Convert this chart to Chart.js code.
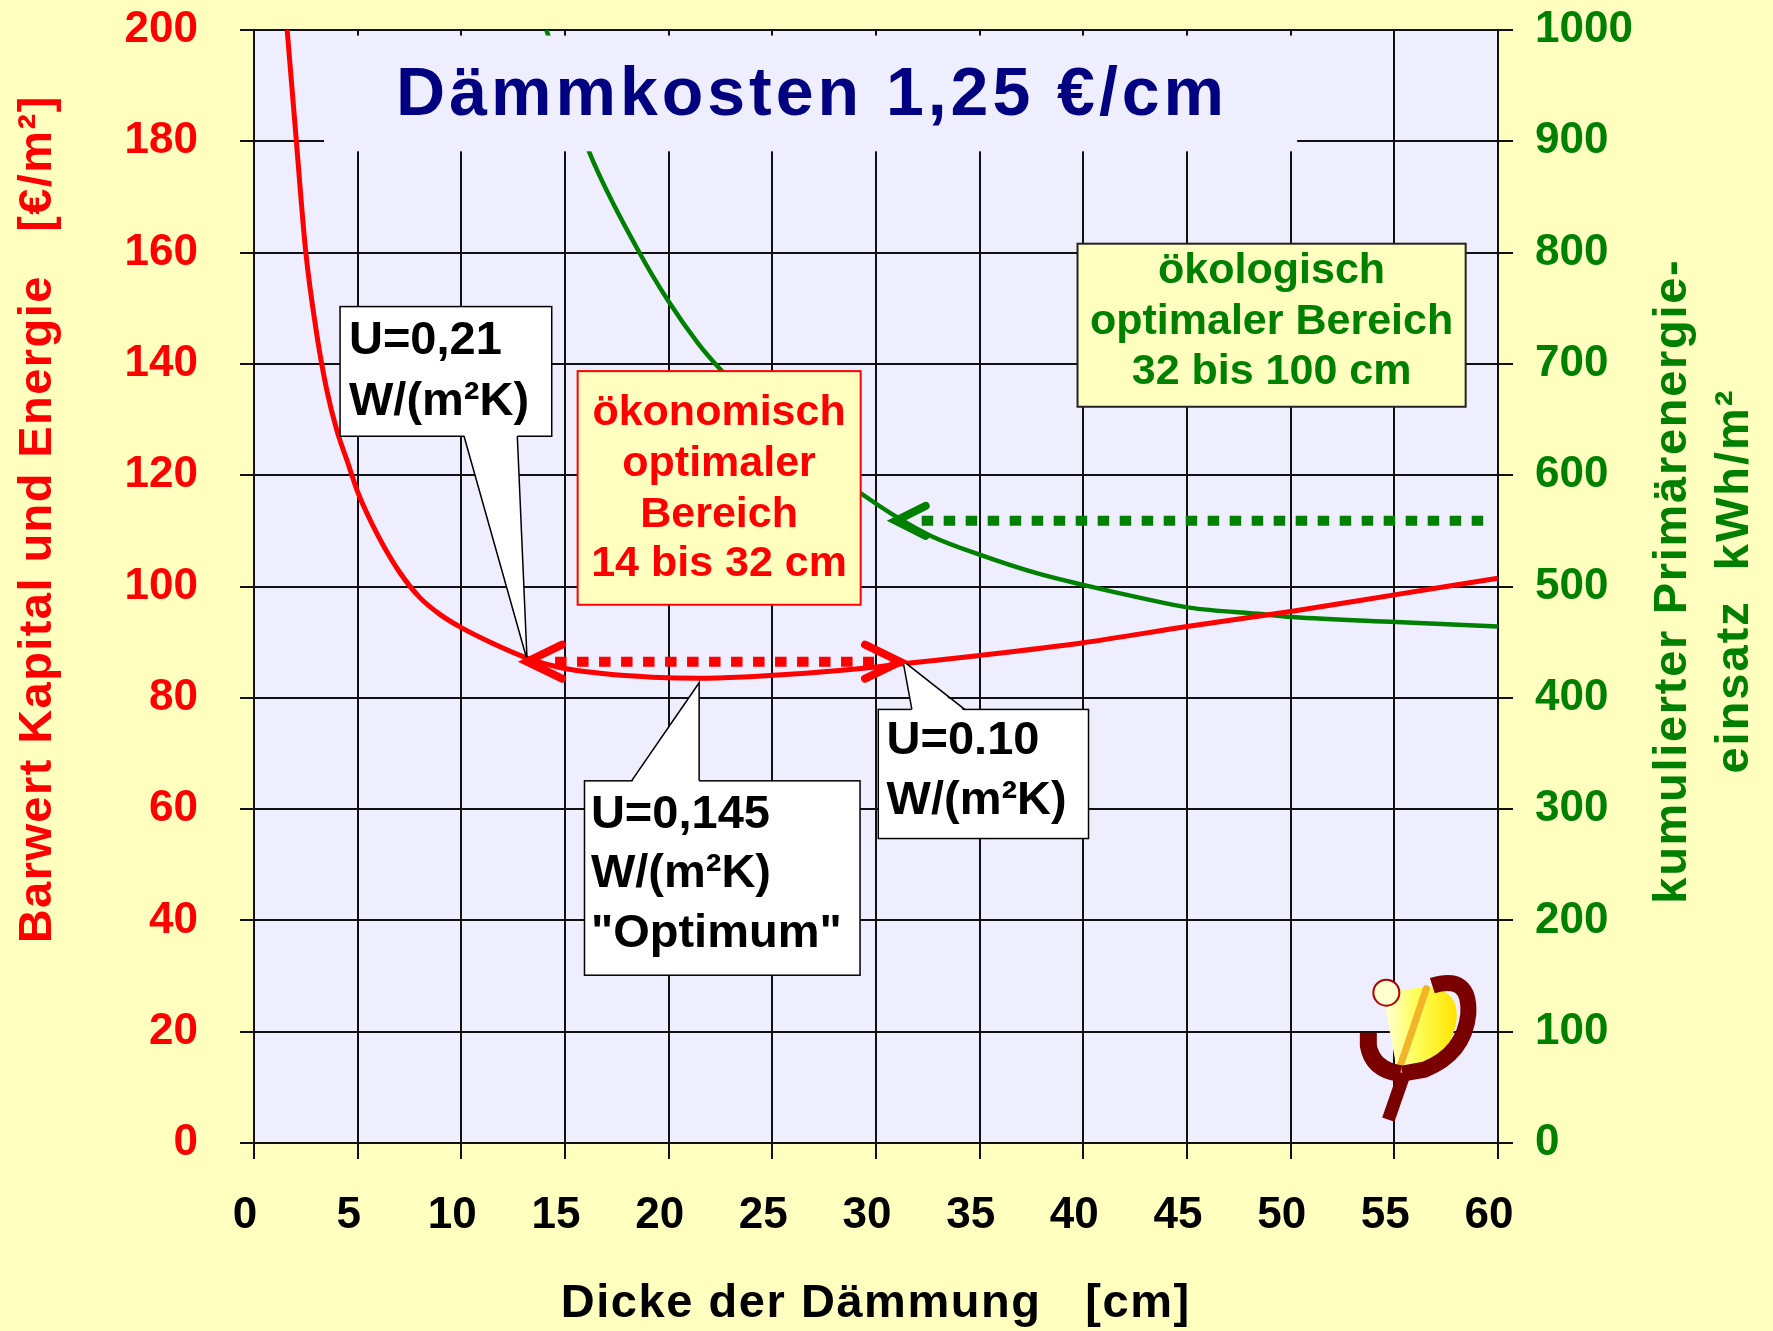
<!DOCTYPE html>
<html>
<head>
<meta charset="UTF-8">
<title>Dämmkosten 1,25 €/cm</title>
<script src="https://cdn.jsdelivr.net/npm/chart.js@4.4.1/dist/chart.umd.min.js"></script>
<style>
	html, body { margin:0; padding:0; background:#FFFFC0; }
	canvas { display:block; }
</style>
</head>
<body>
	<canvas id="myChart" width="1773" height="1331"></canvas>

	<script>
		// Barwert Kapital und Energie [€/m²] (linke Achse)
		const barwertDicke = [1.6, 2.0, 2.5, 3.0, 3.5, 4.0, 4.5, 5.0, 6.0, 7.0, 8.0, 9.0, 10.0, 11.5, 13.2, 14.8, 16.7, 19.2, 21.5, 23.9, 26.6, 29.4, 31.3, 35, 40, 45, 50, 55, 60];
		const barwertWert  = [200, 182, 160, 146, 135.5, 128, 122.5, 117, 109, 102.7, 98, 94.9, 92.6, 89.8, 87.1, 85.4, 84.4, 83.7, 83.5, 83.8, 84.4, 85.3, 86.1, 87.6, 89.9, 92.8, 95.5, 98.5, 101.5];

		// kumulierter Primärenergieeinsatz [kWh/m²] (rechte Achse)
		const primaerDicke = [14.1, 16.2, 18.5, 20.0, 21.4, 22.5, 25.5, 27.5, 29.25, 30.95, 32.7, 35.1, 37.75, 40.1, 42.7, 45.1, 48.7, 50.1, 55.1, 60];
		const primaerWert  = [1000, 889, 803, 756, 719, 695, 640, 608, 584, 563, 545, 528, 512, 501, 490, 481, 475, 472.5, 468, 464];

		// Achsenteilung
		const xTicks = [0, 5, 10, 15, 20, 25, 30, 35, 40, 45, 50, 55, 60];
		const yLinksTicks = [0, 20, 40, 60, 80, 100, 120, 140, 160, 180, 200];
		const yRechtsTicks = [0, 100, 200, 300, 400, 500, 600, 700, 800, 900, 1000];

		// Texte
		const titel = 'Dämmkosten 1,25 €/cm';
		const xTitel = 'Dicke der Dämmung   [cm]';
		const yLinksTitel = 'Barwert Kapital und Energie   [€/m²]';
		const yRechtsTitel = ['kumulierter Primärenergie-', 'einsatz  kWh/m²'];
	</script>

	<script>
		const FONT = '"Liberation Sans", Arial, sans-serif';

		// Lage der Kästen/Pfeile in Achsen-Einheiten (x in cm, y in €/m²)
		const lage = {
			titelBox: { x0: 3.38, x1: 50.31, y0: 199.0, y1: 178.2, tx: 26.82, ty: 184.8 },
			u021: { x0: 4.15, x1: 14.36, y0: 150.3, y1: 127.0, za: 10.13, zb: 12.7, tipX: 13.17, tipY: 86.83, tx: 4.58, ty: [141.7, 130.9] },
			oekon: { x0: 15.61, x1: 29.26, y0: 138.7, y1: 96.72, tx: 22.43, ty: [129.1, 119.9, 110.7, 101.8] },
			oekol: { x0: 39.72, x1: 58.44, y0: 161.6, y1: 132.3, tx: 49.08, ty: [154.6, 145.4, 136.4] },
			u0145: { x0: 15.94, x1: 29.23, y0: 65.08, y1: 30.15, za: 18.21, zb: 21.47, tipX: 21.47, tipY: 82.7, tx: 16.25, ty: [56.63, 46.02, 35.24] },
			u010: { x0: 30.11, x1: 40.25, y0: 77.91, y1: 54.71, za: 31.73, zb: 34.28, tipX: 31.3, tipY: 86.65, tx: 30.51, ty: [69.93, 59.15] },
			rotPfeil: { x0: 13.17, x1: 31.16, y: 86.5 },
			gruenPfeil: { x0: 30.95, x1: 59.7, y: 559 },
			logo: { x: 55, y: 20 }
		};

		function kasten(ctx, X, Y, b, fill, stroke, lw) {
			const x = X(b.x0), y = Y(b.y0), w = X(b.x1) - x, h = Y(b.y1) - y;
			ctx.fillStyle = fill;
			ctx.fillRect(x, y, w, h);
			if (stroke) {
				ctx.strokeStyle = stroke;
				ctx.lineWidth = lw;
				ctx.strokeRect(x, y, w, h);
			}
		}

		function zeiger(ctx, xa, xb, yb, xt, yt) {
			const d = yt > yb ? -2 : 2;
			ctx.fillStyle = '#fff';
			ctx.beginPath();
			ctx.moveTo(xa, yb + d);
			ctx.lineTo(xb, yb + d);
			ctx.lineTo(xt, yt);
			ctx.closePath();
			ctx.fill();
			ctx.strokeStyle = '#000';
			ctx.lineWidth = 1.5;
			ctx.beginPath();
			ctx.moveTo(xa, yb); ctx.lineTo(xt, yt); ctx.lineTo(xb, yb);
			ctx.stroke();
		}

		function spitze(ctx, xt, y, dir, len, half, color) {
			ctx.strokeStyle = color;
			ctx.lineWidth = 8;
			ctx.lineCap = 'round';
			ctx.lineJoin = 'miter';
			ctx.setLineDash([]);
			ctx.beginPath();
			ctx.moveTo(xt + dir * len, y - half);
			ctx.lineTo(xt, y);
			ctx.lineTo(xt + dir * len, y + half);
			ctx.stroke();
		}

		function punktLinie(ctx, xa, xb, y, color) {
			ctx.strokeStyle = color;
			ctx.lineWidth = 10;
			ctx.lineCap = 'butt';
			ctx.setLineDash([11.5, 10.5]);
			ctx.beginPath();
			ctx.moveTo(xa, y);
			ctx.lineTo(xb, y);
			ctx.stroke();
			ctx.setLineDash([]);
		}

		function zeilen(ctx, lines, x, ys, Y, color, font, align) {
			ctx.fillStyle = color;
			ctx.font = font;
			ctx.textAlign = align;
			ctx.textBaseline = 'alphabetic';
			lines.forEach(function(t, i) { ctx.fillText(t, x, Y(ys[i])); });
		}

		function gespreizt(ctx, text, x, y, breite) {
			ctx.letterSpacing = '0px';
			const w = ctx.measureText(text).width;
			const sp = Math.max(0, (breite - w) / text.length);
			ctx.letterSpacing = sp + 'px';
			ctx.fillText(text, x + sp / 2, y);
			ctx.letterSpacing = '0px';
		}

		function logo(ctx, ax, ay) {
			ctx.save();
			ctx.translate(ax, ay);
			// gelber Fächer
			const g = ctx.createLinearGradient(-15, 0, 62, 0);
			g.addColorStop(0, '#FFFFF0');
			g.addColorStop(0.45, '#FFFF60');
			g.addColorStop(1, '#FFE400');
			ctx.fillStyle = g;
			ctx.beginPath();
			ctx.moveTo(-12, -40);
			ctx.lineTo(36, -45);
			ctx.quadraticCurveTo(66, -40, 62, -10);
			ctx.quadraticCurveTo(56, 25, 20, 38);
			ctx.lineTo(3, 40);
			ctx.closePath();
			ctx.fill();
			// oranger Streifen
			ctx.strokeStyle = '#F2B428';
			ctx.lineWidth = 7;
			ctx.beginPath();
			ctx.moveTo(32, -43);
			ctx.lineTo(5, 37);
			ctx.stroke();
			// dunkelroter Bogen
			ctx.strokeStyle = '#7A0000';
			ctx.lineCap = 'butt';
			ctx.lineWidth = 16;
			ctx.beginPath();
			ctx.moveTo(38, -46);
			ctx.quadraticCurveTo(76, -58, 74, -18);
			ctx.quadraticCurveTo(70, 22, 30, 38);
			ctx.lineTo(8, 42);
			ctx.stroke();
			// linker Arm
			ctx.lineWidth = 17;
			ctx.beginPath();
			ctx.moveTo(-26, 1);
			ctx.lineTo(-26, 14);
			ctx.quadraticCurveTo(-22, 38, 6, 42);
			ctx.stroke();
			// Stiel
			ctx.lineWidth = 13;
			ctx.beginPath();
			ctx.moveTo(10, 42);
			ctx.lineTo(-6, 88);
			ctx.stroke();
			// kleiner Kreis
			ctx.fillStyle = '#FFFFD0';
			ctx.strokeStyle = '#B00000';
			ctx.lineWidth = 2;
			ctx.beginPath();
			ctx.arc(-8, -39, 13, 0, Math.PI * 2);
			ctx.fill();
			ctx.stroke();
			ctx.restore();
		}

		const deko = {
			id: 'deko',
			beforeDraw(chart) {
				const ctx = chart.ctx, a = chart.chartArea;
				ctx.save();
				ctx.fillStyle = '#FFFFC0';
				ctx.fillRect(0, 0, chart.width, chart.height);
				ctx.fillStyle = '#EEEEFF';
				ctx.fillRect(a.left, a.top, a.right - a.left, a.bottom - a.top);
				ctx.restore();
			},
			afterDatasetsDraw(chart) {
				const ctx = chart.ctx;
				const sx = chart.scales.x, sy = chart.scales.y, sy1 = chart.scales.y1;
				const X = v => sx.getPixelForValue(v), Y = v => sy.getPixelForValue(v);
				ctx.save();

				// Titelfeld deckt Gitter und Kurve ab
				const t = lage.titelBox;
				kasten(ctx, X, Y, t, '#EEEEFF');
				ctx.fillStyle = '#000080';
				ctx.font = 'bold 68px ' + FONT;
				ctx.textAlign = 'center';
				ctx.textBaseline = 'alphabetic';
				gespreizt(ctx, titel, X(t.tx), Y(t.ty), 832);

				// U=0,21
				let b = lage.u021;
				kasten(ctx, X, Y, b, '#fff', '#000', 1.5);
				zeiger(ctx, X(b.za), X(b.zb), Y(b.y1), X(b.tipX), Y(b.tipY));
				zeilen(ctx, ['U=0,21', 'W/(m²K)'], X(b.tx), b.ty, Y, '#000', 'bold 47px ' + FONT, 'left');

				// ökonomisch optimaler Bereich
				b = lage.oekon;
				kasten(ctx, X, Y, b, '#FFFFC0', '#FF0000', 2);
				zeilen(ctx, ['ökonomisch', 'optimaler', 'Bereich', '14 bis 32 cm'], X(b.tx), b.ty, Y, '#FF0000', 'bold 43px ' + FONT, 'center');

				// ökologisch optimaler Bereich
				b = lage.oekol;
				kasten(ctx, X, Y, b, '#FFFFC0', '#222', 2);
				zeilen(ctx, ['ökologisch', 'optimaler Bereich', '32 bis 100 cm'], X(b.tx), b.ty, Y, '#008000', 'bold 43px ' + FONT, 'center');

				// U=0,145 Optimum
				b = lage.u0145;
				kasten(ctx, X, Y, b, '#fff', '#000', 1.5);
				zeiger(ctx, X(b.za), X(b.zb), Y(b.y0), X(b.tipX), Y(b.tipY));
				zeilen(ctx, ['U=0,145', 'W/(m²K)', '"Optimum"'], X(b.tx), b.ty, Y, '#000', 'bold 47px ' + FONT, 'left');

				// U=0.10
				b = lage.u010;
				kasten(ctx, X, Y, b, '#fff', '#000', 1.5);
				zeiger(ctx, X(b.za), X(b.zb), Y(b.y0), X(b.tipX), Y(b.tipY));
				zeilen(ctx, ['U=0.10', 'W/(m²K)'], X(b.tx), b.ty, Y, '#000', 'bold 47px ' + FONT, 'left');

				// roter Doppelpfeil
				const r = lage.rotPfeil;
				const ry = Y(r.y);
				punktLinie(ctx, X(r.x0) + 28, X(r.x1) - 26, ry, '#FF0000');
				spitze(ctx, X(r.x0), ry, 1, 35, 17, '#FF0000');
				spitze(ctx, X(r.x1), ry, -1, 35, 17, '#FF0000');

				// grüner Pfeil
				const gp = lage.gruenPfeil;
				const gy = sy1.getPixelForValue(gp.y);
				punktLinie(ctx, X(gp.x0) + 26, X(gp.x1), gy, '#008000');
				spitze(ctx, X(gp.x0), gy, 1, 30, 15, '#008000');

				logo(ctx, X(lage.logo.x), Y(lage.logo.y));
				ctx.restore();
			},
			afterDraw(chart) {
				const ctx = chart.ctx;
				ctx.save();
				ctx.textAlign = 'center';
				ctx.textBaseline = 'middle';
				ctx.font = 'bold 47px ' + FONT;

				ctx.fillStyle = '#000';
				gespreizt(ctx, xTitel, 875, 1304, 630);

				ctx.fillStyle = '#FF0000';
				ctx.save();
				ctx.translate(38, 520);
				ctx.rotate(-Math.PI / 2);
				gespreizt(ctx, yLinksTitel, 0, 0, 848);
				ctx.restore();

				ctx.fillStyle = '#008000';
				ctx.save();
				ctx.translate(1673, 582);
				ctx.rotate(-Math.PI / 2);
				gespreizt(ctx, yRechtsTitel[0], 0, 0, 645);
				ctx.restore();
				ctx.save();
				ctx.translate(1735, 582);
				ctx.rotate(-Math.PI / 2);
				gespreizt(ctx, yRechtsTitel[1], 0, 0, 385);
				ctx.restore();

				ctx.restore();
			}
		};

		Chart.defaults.font.family = FONT;
		Chart.defaults.font.weight = 'bold';

		const tickFont = { family: FONT, size: 44, weight: 'bold' };
		const gitter = '#111';

		new Chart('myChart', {
			type: 'line',
			data: {
				datasets: [{
					data: barwertDicke.map((x, i) => ({ x: x, y: barwertWert[i] })),
					yAxisID: 'y',
					borderColor: '#FF0000',
					borderWidth: 5,
					borderJoinStyle: 'round',
					cubicInterpolationMode: 'monotone',
					pointRadius: 0,
					fill: false
				}, {
					data: primaerDicke.map((x, i) => ({ x: x, y: primaerWert[i] })),
					yAxisID: 'y1',
					borderColor: '#008000',
					borderWidth: 4.5,
					borderJoinStyle: 'round',
					cubicInterpolationMode: 'monotone',
					pointRadius: 0,
					fill: false
				}]
			},
			options: {
				responsive: false,
				animation: false,
				devicePixelRatio: 1,
				layout: { padding: { top: 30, left: 0, right: 0, bottom: 0 } },
				plugins: { legend: { display: false }, tooltip: { enabled: false } },
				scales: {
					x: {
						type: 'linear', min: 0, max: 60,
						afterBuildTicks: s => { s.ticks = xTicks.map(v => ({ value: v })); },
						afterFit: s => { s.height = 188; s.paddingLeft = 0; s.paddingRight = 0; },
						ticks: { font: tickFont, color: '#000', padding: 30, labelOffset: -9, maxRotation: 0, autoSkip: false, callback: v => String(v) },
						grid: { color: gitter, lineWidth: 2, tickLength: 16 },
						border: { color: gitter, width: 2 }
					},
					y: {
						position: 'left', min: 0, max: 200,
						afterBuildTicks: s => { s.ticks = yLinksTicks.map(v => ({ value: v })); },
						afterFit: s => { s.width = 254; s.paddingTop = 0; s.paddingBottom = 0; },
						ticks: { font: tickFont, color: '#FF0000', padding: 42, autoSkip: false, callback: v => String(v) },
						grid: { color: gitter, lineWidth: 2, tickLength: 14 },
						border: { color: gitter, width: 2 }
					},
					y1: {
						position: 'right', min: 0, max: 1000,
						afterBuildTicks: s => { s.ticks = yRechtsTicks.map(v => ({ value: v })); },
						afterFit: s => { s.width = 275; s.paddingTop = 0; s.paddingBottom = 0; },
						ticks: { font: tickFont, color: '#008000', padding: 22, autoSkip: false, callback: v => String(v) },
						grid: { drawOnChartArea: false, color: gitter, lineWidth: 2, tickLength: 15 },
						border: { color: gitter, width: 2 }
					}
				}
			},
			plugins: [deko]
		});
	</script>
</body>
</html>
